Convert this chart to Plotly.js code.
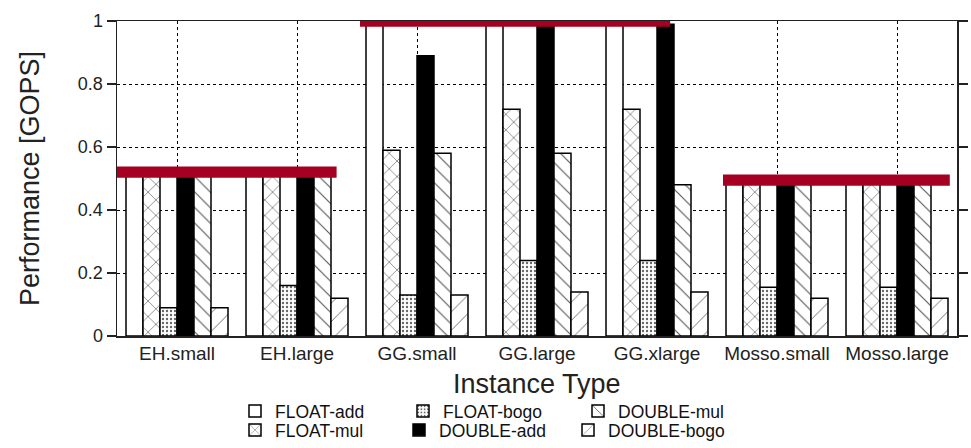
<!DOCTYPE html>
<html>
<head>
<meta charset="utf-8">
<script src="https://cdn.plot.ly/plotly-3.0.1.min.js"></script>
<style>html,body{margin:0;padding:0;background:#fff;}#chart{width:971px;height:448px;}</style>
</head>
<body>
<div id="chart"></div>
<script>
// Categories and series values (GOPS)
const categories = ['EH.small', 'EH.large', 'GG.small', 'GG.large', 'GG.xlarge', 'Mosso.small', 'Mosso.large'];
const seriesNames = ['FLOAT-add', 'FLOAT-mul', 'FLOAT-bogo', 'DOUBLE-add', 'DOUBLE-mul', 'DOUBLE-bogo'];
const floatAdd   = [0.51, 0.51, 1.00, 1.00, 1.00, 0.49, 0.49];
const floatMul   = [0.51, 0.51, 0.59, 0.72, 0.72, 0.49, 0.49];
const floatBogo  = [0.09, 0.16, 0.13, 0.24, 0.24, 0.155, 0.155];
const doubleAdd  = [0.51, 0.51, 0.89, 0.99, 0.99, 0.49, 0.49];
const doubleMul  = [0.51, 0.51, 0.58, 0.58, 0.48, 0.49, 0.49];
const doubleBogo = [0.09, 0.12, 0.13, 0.14, 0.14, 0.12, 0.12];

// Red reference levels (value, start/end in category index units)
const refLevel = [0.52, 1.00, 0.495];
const refStart = [-0.55, 1.525, 4.55];
const refEnd   = [1.33, 4.11, 6.44];

const yTickVals = [0, 0.2, 0.4, 0.6, 0.8, 1];
const yTickText = ['0', '0.2', '0.4', '0.6', '0.8', '1'];
const xTitle = 'Instance Type';
const yTitle = 'Performance [GOPS]';

const font = '"Liberation Sans", Arial, sans-serif';
const seriesValues = [floatAdd, floatMul, floatBogo, doubleAdd, doubleMul, doubleBogo];
const styles = [
  {color: '#ffffff', pattern: {shape: ''}},
  {color: '#ffffff', pattern: {shape: 'x', size: 11, solidity: 0.1, fgcolor: '#444', bgcolor: '#fff'}},
  {color: '#ffffff', pattern: {shape: '.', size: 4, solidity: 0.28, fgcolor: '#666', bgcolor: '#fff'}},
  {color: '#000000', pattern: {shape: ''}},
  {color: '#ffffff', pattern: {shape: '\\', size: 11, solidity: 0.1, fgcolor: '#555', bgcolor: '#fff'}},
  {color: '#ffffff', pattern: {shape: '/', size: 13, solidity: 0.07, fgcolor: '#666', bgcolor: '#fff'}}
];
// one legend per entry, placed in two rows of three columns (pixel anchors)
const legendIds = ['legend', 'legend4', 'legend2', 'legend5', 'legend3', 'legend6'];
const legendPos = {
  legend:  {x: 235, y: 411},
  legend2: {x: 403, y: 411},
  legend3: {x: 578, y: 411},
  legend4: {x: 235, y: 430},
  legend5: {x: 399, y: 430},
  legend6: {x: 568, y: 430}
};

const traces = seriesNames.map((name, i) => ({
  type: 'bar',
  name: name,
  x: categories,
  y: seriesValues[i],
  legend: legendIds[i],
  marker: {
    color: styles[i].color,
    pattern: styles[i].pattern,
    line: {color: '#000', width: 1.5}
  },
  hoverinfo: 'x+y+name'
}));

traces.push({
  type: 'bar',
  orientation: 'h',
  xaxis: 'x2',
  yaxis: 'y',
  y: refLevel,
  base: refStart,
  x: refEnd.map((e, i) => e - refStart[i]),
  width: 0.036,
  cliponaxis: false,
  showlegend: false,
  marker: {color: '#A50021', line: {width: 0}},
  hoverinfo: 'skip'
});

const W = 971, H = 448;
const M = {l: 117, r: 14, t: 21, b: 112};
const plotW = W - M.l - M.r, plotH = H - M.t - M.b;
const layout = {
  width: W,
  height: H,
  margin: M,
  paper_bgcolor: '#fff',
  plot_bgcolor: '#fff',
  font: {family: font, color: '#222', size: 18},
  barmode: 'group',
  bargap: 0.15,
  bargroupgap: 0,
  showlegend: true,
  xaxis: {
    type: 'category',
    range: [-0.5, 6.5],
    showline: true, linecolor: '#222', linewidth: 1.5, mirror: true,
    showgrid: true, gridcolor: '#000', griddash: 'dot', gridwidth: 1,
    ticks: '',
    tickfont: {family: font, size: 19, color: '#222'},
    automargin: false,
    fixedrange: true
  },
  xaxis2: {
    overlaying: 'x',
    anchor: 'y',
    range: [-0.5, 6.5],
    visible: false,
    fixedrange: true
  },
  yaxis: {
    range: [0, 1],
    tickvals: yTickVals,
    ticktext: yTickText,
    showline: true, linecolor: '#222', linewidth: 1.5, mirror: 'ticks',
    ticks: 'outside', ticklen: 9, tickcolor: '#222', tickwidth: 1.5,
    showgrid: true, gridcolor: '#000', griddash: 'dot', gridwidth: 1,
    zeroline: false,
    tickfont: {family: font, size: 18, color: '#222'},
    title: {text: yTitle, font: {family: font, size: 27, color: '#222'}, standoff: 30},
    automargin: false,
    fixedrange: true
  },
  annotations: [{
    text: xTitle,
    xref: 'paper', yref: 'paper',
    x: 0.5, xanchor: 'center',
    y: (H - M.b - 384) / plotH, yanchor: 'middle',
    showarrow: false,
    font: {family: font, size: 27, color: '#222'}
  }]
};
Object.keys(legendPos).forEach(id => {
  layout[id] = {
    xref: 'paper', yref: 'container',
    x: (legendPos[id].x - M.l) / plotW, xanchor: 'left',
    y: 1 - legendPos[id].y / H, yanchor: 'middle',
    orientation: 'v',
    bgcolor: 'rgba(0,0,0,0)',
    font: {family: font, size: 17.5, color: '#111'}
  };
});

Plotly.newPlot('chart', traces, layout, {displayModeBar: false, staticPlot: true});
</script>
</body>
</html>
